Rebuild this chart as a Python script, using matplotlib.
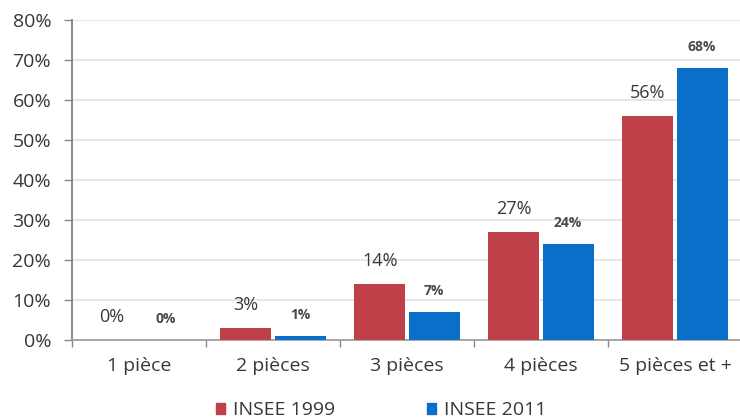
import matplotlib.pyplot as plt
import numpy as np
from matplotlib.patches import Patch

categories = ["1 pièce", "2 pièces", "3 pièces", "4 pièces", "5 pièces et +"]
insee_1999 = [0, 3, 14, 27, 56]
insee_2011 = [0, 1, 7, 24, 68]
series_names = ["INSEE 1999", "INSEE 2011"]
y_ticks = [0, 10, 20, 30, 40, 50, 60, 70, 80]

red = "#C0404A"
blue = "#0A6FC8"
text_col = "#383838"

plt.rcParams['font.family'] = ['Open Sans', 'DejaVu Sans']

fig = plt.figure(figsize=(7.4, 4.2), dpi=100)
ax = fig.add_axes([72 / 740, 80 / 420, 670 / 740, 320 / 420])

x = np.arange(len(categories))
w = 0.38
gap = 0.012
b1 = ax.bar(x - w / 2 - gap, insee_1999, width=w, color=red, zorder=3)
b2 = ax.bar(x + w / 2 + gap, insee_2011, width=w, color=blue, zorder=3)

for rect, v in zip(b1, insee_1999):
    ax.annotate(f"{v}%", (rect.get_x() + rect.get_width() / 2, v),
                xytext=(0, 16.5), textcoords="offset points",
                ha="center", va="center", fontsize=13, color=text_col)
for rect, v in zip(b2, insee_2011):
    ax.annotate(f"{v}%", (rect.get_x() + rect.get_width() / 2, v),
                xytext=(0, 15), textcoords="offset points",
                ha="center", va="center", fontsize=10, color="#4a4a4a",
                fontweight="bold")

ax.set_xlim(-0.5, len(categories) - 0.5)
ax.set_ylim(0, 80)
ax.set_yticks(y_ticks)
ax.set_yticklabels([f"{t}%" for t in y_ticks], fontsize=14, color=text_col)
ax.yaxis.grid(True, color="#E2E2E2", linewidth=1.2, zorder=0)
ax.set_axisbelow(True)

# category labels centred, tick marks on the boundaries between categories
ax.set_xticks(x)
ax.set_xticklabels(categories, fontsize=14, color=text_col)
ax.tick_params(axis="x", length=0, pad=12)
ax.set_xticks(np.arange(len(categories) + 1) - 0.5, minor=True)
ax.tick_params(axis="x", which="minor", length=5, color="#888888", width=1)
ax.tick_params(axis="y", length=6, color="#888888", width=1, pad=9)

for side in ["top", "right"]:
    ax.spines[side].set_visible(False)
ax.spines["left"].set_color("#808080")
ax.spines["bottom"].set_color("#999999")
ax.spines["left"].set_linewidth(1.3)
ax.spines["bottom"].set_linewidth(1.2)

handles = [Patch(color=red), Patch(color=blue)]
fig.legend(handles, series_names, loc="center", bbox_to_anchor=(381 / 740, 1 - 410 / 420),
           ncol=2, frameon=False, fontsize=14, handlelength=0.5, handleheight=0.5,
           handletextpad=0.4, columnspacing=4.7, labelcolor=text_col)

fig.savefig("out.png", dpi=100)
